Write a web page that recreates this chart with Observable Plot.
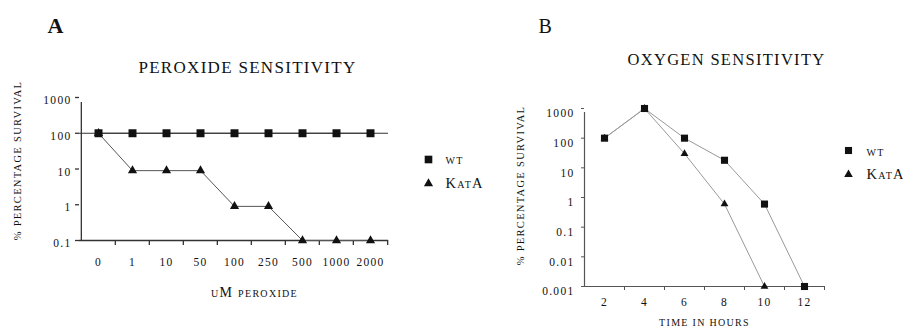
<!DOCTYPE html>
<html><head><meta charset="utf-8">
<script src="https://cdn.jsdelivr.net/npm/d3@7"></script>
<script src="https://cdn.jsdelivr.net/npm/@observablehq/plot@0.6"></script>
<style>
body{margin:0;background:#fff;}
#wrap{position:relative;width:903px;height:328px;overflow:hidden;}
#wrap svg{position:absolute;top:0;overflow:visible;}
svg text{letter-spacing:1.3px;}
g[aria-label="panel"] text{letter-spacing:0;}
g[aria-label="title"] text{letter-spacing:3.1px;}
g[aria-label="xtitle"] text{letter-spacing:2px;}
g[aria-label="ytitle"] text{letter-spacing:1.2px;}
g[aria-label="legend"] text{letter-spacing:0.8px;}
</style></head><body><div id="wrap"></div>
<script>
// ---- data ----
const doses = ["0","1","10","50","100","250","500","1000","2000"];
const peroxideWT = [100,100,100,100,100,100,100,100,100];
const peroxideKatA = [100,9,9,9,0.9,0.9,0.1,0.1,0.1];
const hoursWT = [2,4,6,8,10,12];
const oxygenWT = [100,1000,100,18,0.6,0.001];
const hoursKatA = [2,4,6,8,10];
const oxygenKatA = [100,1000,30,0.6,0.001];
const hourTicks = [2,4,6,8,10,12];
const yTicksA = [0.1,1,10,100,1000];
const yTicksB = [0.001,0.01,0.1,1,10,100,1000];
const legendLabels = ["wt","KatA"];
const titles = ["Peroxide sensitivity","Oxygen sensitivity"];

const FONT = "'Liberation Serif', serif";
const fmt = d => String(d);

const perA = doses.map((d,i)=>({x:d, wt:peroxideWT[i], kat:peroxideKatA[i]}));
const oxWT = hoursWT.map((h,i)=>({x:h, y:oxygenWT[i]}));
const oxKat = hoursKatA.map((h,i)=>({x:h, y:oxygenKatA[i]}));

function at(px, py, ml, mt, anchor="middle"){
  return {frameAnchor:"top-left", dx:px-ml, dy:py-mt, textAnchor:anchor, lineAnchor:"middle"};
}

// ---- Panel A ----
{
  const W=460,H=328,ml=79,mr=72,mt=97,mb=88;
  const bw=(W-ml-mr)/doses.length;
  const ax="#333";
  const svg = Plot.plot({
    width:W,height:H,marginLeft:ml,marginRight:mr,marginTop:mt,marginBottom:mb,
    style:{fontFamily:FONT,fontSize:"11px",color:"#111",background:"transparent"},
    x:{type:"band",domain:doses,padding:0,label:null},
    y:{type:"log",domain:[0.1,1000],label:null},
    marks:[
      Plot.ruleY([100],{stroke:"#333",strokeWidth:1.2}),
      Plot.ruleY([0.1],{stroke:ax,strokeWidth:1.3}),
      Plot.ruleX([doses[0]],{x:d=>d,dx:-bw/2,y1:0.1,y2:1000,stroke:ax,strokeWidth:1.3,insetBottom:-5}),
      Plot.ruleX(doses.slice(1),{x:d=>d,dx:-bw/2,y1:0.1,y2:0.1,insetBottom:-5,stroke:ax,strokeWidth:1.3}),
      Plot.ruleX([doses[doses.length-1]],{x:d=>d,dx:bw/2,y1:0.1,y2:0.1,insetBottom:-5,stroke:ax,strokeWidth:1.3}),
      Plot.axisY({ticks:yTicksA,tickSize:4,tickFormat:()=>"",stroke:ax,strokeWidth:1.3,label:null}),
      Plot.text(yTicksA,{y:d=>d,text:fmt,frameAnchor:"left",textAnchor:"end",dx:-8,dy:3,fontSize:11.5,fill:"#111"}),
      Plot.axisX({tickSize:0,tickPadding:17,fontSize:11.5,fill:"#111",label:null}),
      Plot.line(perA,{x:"x",y:"wt",stroke:"#333",strokeWidth:1}),
      Plot.line(perA,{x:"x",y:"kat",stroke:"#555",strokeWidth:1}),
      Plot.dot(perA,{x:"x",y:"kat",symbol:"triangle",r:3.4,fill:"#111",stroke:null}),
      Plot.dot(perA,{x:"x",y:"wt",symbol:"square",r:4.5,fill:"#111",stroke:null}),
      // texts
      Plot.text(["A"],{...at(47,25,ml,mt,"start"),text:d=>d,fontSize:22,fontWeight:"bold",fill:"#111",ariaLabel:"panel"}),
      Plot.text([titles[0]],{...at(247,67,ml,mt),text:d=>d.toUpperCase(),fontSize:17,fill:"#111",ariaLabel:"title"}),
      Plot.text(["uM peroxide"],{...at(254,292,ml,mt),text:d=>d,fontSize:14,fontVariant:"small-caps",fill:"#111",ariaLabel:"xtitle"}),
      Plot.text(["% percentage survival"],{...at(17,160,ml,mt),text:d=>d.toUpperCase(),fontSize:10.5,rotate:-90,fill:"#111",ariaLabel:"ytitle"}),
      Plot.dot([0],{...at(428,159,ml,mt),symbol:"square",r:4.3,fill:"#111",stroke:null}),
      Plot.dot([0],{...at(428,183,ml,mt),symbol:"triangle",r:3.4,fill:"#111",stroke:null}),
      Plot.text(legendLabels,{...at(445,159,ml,mt,"start"),text:d=>d,fontSize:14.5,fontVariant:"small-caps",fill:"#111",ariaLabel:"legend",
        filter:(d,i)=>i===0}),
      Plot.text(legendLabels,{...at(445,183,ml,mt,"start"),text:d=>d,fontSize:14.5,fontVariant:"small-caps",fill:"#111",ariaLabel:"legend",
        filter:(d,i)=>i===1})
    ]
  });
  svg.style.left="0px";
  document.getElementById("wrap").appendChild(svg);
}

// ---- Panel B ----
{
  const W=443,H=328,ml=124,mr=79,mt=108,mb=42,off=460;
  const bw=(W-ml-mr)/hourTicks.length;
  const ax="#555";
  const svg = Plot.plot({
    width:W,height:H,marginLeft:ml,marginRight:mr,marginTop:mt,marginBottom:mb,
    style:{fontFamily:FONT,fontSize:"11px",color:"#111",background:"transparent"},
    x:{type:"band",domain:hourTicks,padding:0,label:null},
    y:{type:"log",domain:[0.001,1000],label:null},
    marks:[
      Plot.ruleY([0.001],{stroke:ax,strokeWidth:1.2}),
      Plot.ruleX([hourTicks[0]],{x:d=>d,dx:-bw/2,y1:0.001,y2:1000,stroke:ax,strokeWidth:1.2,insetBottom:-4}),
      Plot.ruleX(hourTicks.slice(1),{x:d=>d,dx:-bw/2,y1:0.001,y2:0.001,insetBottom:-4,stroke:ax,strokeWidth:1}),
      Plot.ruleX([hourTicks[hourTicks.length-1]],{x:d=>d,dx:bw/2,y1:0.001,y2:0.001,insetBottom:-4,stroke:ax,strokeWidth:1}),
      Plot.axisY({ticks:yTicksB,tickSize:3,tickFormat:()=>"",stroke:ax,strokeWidth:1,label:null}),
      Plot.text(yTicksB,{y:d=>d,text:fmt,frameAnchor:"left",textAnchor:"end",dx:-10,dy:5,fontSize:11.5,fill:"#111"}),
      Plot.axisX({tickSize:0,tickPadding:11,fontSize:11.5,fill:"#111",label:null}),
      Plot.line(oxKat,{x:"x",y:"y",stroke:"#999",strokeWidth:1}),
      Plot.line(oxWT,{x:"x",y:"y",stroke:"#999",strokeWidth:1}),
      Plot.dot(oxKat,{x:"x",y:"y",symbol:"triangle",r:2.9,fill:"#111",stroke:null}),
      Plot.dot(oxWT,{x:"x",y:"y",symbol:"square",r:4,fill:"#111",stroke:null}),
      Plot.text(["B"],{...at(538-off,26,ml,mt,"start"),text:d=>d,fontSize:20,fill:"#111",ariaLabel:"panel"}),
      Plot.text([titles[1]],{...at(726-off,59,ml,mt),text:d=>d.toUpperCase(),fontSize:16.5,fill:"#111",ariaLabel:"title"}),
      Plot.text(["Time in hours"],{...at(704-off,322,ml,mt),text:d=>d.toUpperCase(),fontSize:10,fill:"#111",ariaLabel:"xtitle"}),
      Plot.text(["% percentage survival"],{...at(520-off,185,ml,mt),text:d=>d.toUpperCase(),fontSize:10.5,rotate:-90,fill:"#111",ariaLabel:"ytitle"}),
      Plot.dot([0],{...at(848-off,150,ml,mt),symbol:"square",r:4,fill:"#111",stroke:null}),
      Plot.dot([0],{...at(848-off,174,ml,mt),symbol:"triangle",r:3.2,fill:"#111",stroke:null}),
      Plot.text(legendLabels,{...at(866-off,151,ml,mt,"start"),text:d=>d,fontSize:14.5,fontVariant:"small-caps",fill:"#111",ariaLabel:"legend",
        filter:(d,i)=>i===0}),
      Plot.text(legendLabels,{...at(866-off,174,ml,mt,"start"),text:d=>d,fontSize:14.5,fontVariant:"small-caps",fill:"#111",ariaLabel:"legend",
        filter:(d,i)=>i===1})
    ]
  });
  svg.style.left=off+"px";
  document.getElementById("wrap").appendChild(svg);
}
</script></body></html>
